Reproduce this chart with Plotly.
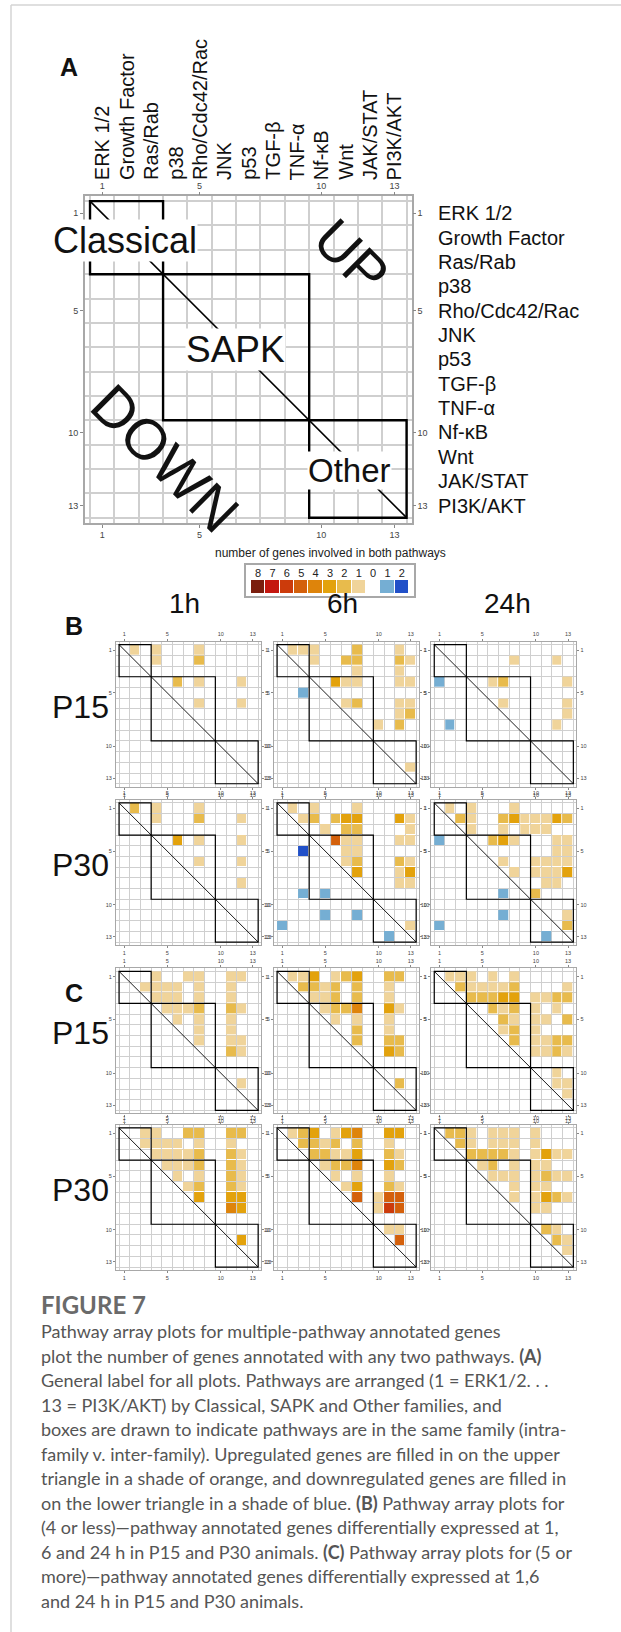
import plotly.graph_objects as go

W, H = 621, 1632

# ---------------- data ----------------
PATHWAYS = ["ERK 1/2", "Growth Factor", "Ras/Rab", "p38", "Rho/Cdc42/Rac", "JNK", "p53",
            "TGF-β", "TNF-α", "Nf-κB", "Wnt", "JAK/STAT", "PI3K/AKT"]
FAMILIES = [("Classical", 3), ("SAPK", 6), ("Other", 4)]
AXIS_TICKS = [1, 5, 10, 13]
TIMES = ["1h", "6h", "24h"]
AGES = ["P15", "P30"]
LEGEND_LEVELS = [8, 7, 6, 5, 4, 3, 2, 1, 0, -1, -2]
LEGEND_LABELS = ["8", "7", "6", "5", "4", "3", "2", "1", "0", "1", "2"]
LEVEL_COLORS = {8: "#7b1e0e", 7: "#c4170f", 6: "#cc3b0b", 5: "#d4600b", 4: "#de840b",
                3: "#e3a20c", 2: "#e8bb4c", 1: "#f0d49a", 0: "#ffffff",
                -1: "#75aed3", -2: "#2150c8"}

# (row, column, genes): positive = upregulated (upper triangle), negative = downregulated
B_P15_1H = [(1, 2, 1), (1, 4, 1), (2, 4, 1), (1, 8, 1), (2, 8, 2), (4, 6, 2), (4, 8, 1),
            (4, 12, 1), (6, 8, 1), (6, 12, 1)]
B_P15_6H = [(1, 2, 1), (1, 3, 1), (1, 4, 1), (1, 8, 2), (1, 12, 1),
            (2, 4, 1), (2, 7, 2), (2, 8, 2), (2, 12, 2), (2, 13, 1),
            (3, 8, 1), (3, 12, 1),
            (4, 6, 3), (4, 7, 1), (4, 8, 1), (4, 12, 1), (4, 13, 1),
            (5, 3, -1),
            (6, 7, 1), (6, 8, 2), (6, 12, 1), (6, 13, 1),
            (7, 12, 1), (7, 13, 2),
            (8, 10, 1), (8, 12, 2),
            (12, 13, 1)]
B_P15_24H = [(2, 8, 1), (2, 12, 1), (4, 1, -1), (4, 6, 1), (4, 7, 2), (4, 13, 1),
             (6, 7, 1), (6, 13, 1), (7, 13, 1), (8, 2, -1), (8, 12, 1)]
B_P30_1H = [(1, 2, 2), (1, 4, 1), (1, 8, 1), (2, 4, 1), (2, 8, 2), (2, 12, 1),
            (4, 6, 3), (4, 8, 1), (4, 12, 1), (6, 8, 1), (6, 12, 1), (8, 12, 1)]
B_P30_6H = [(1, 2, 1), (1, 4, 1), (1, 8, 1),
            (2, 3, 1), (2, 4, 2), (2, 6, 2), (2, 7, 3), (2, 8, 3), (2, 12, 3), (2, 13, 1),
            (3, 5, 1), (3, 7, 2), (3, 8, 2), (3, 13, 1),
            (4, 6, 5), (4, 7, 1), (4, 8, 1), (4, 12, 1), (4, 13, 1),
            (5, 3, -2), (5, 7, 1), (5, 8, 1),
            (6, 7, 1), (6, 8, 2), (6, 12, 2), (6, 13, 1),
            (7, 8, 3), (7, 12, 1), (7, 13, 3),
            (8, 12, 1), (8, 13, 1),
            (9, 3, -1), (9, 5, -1),
            (11, 5, -1), (11, 8, -1),
            (12, 1, -1), (12, 13, 1),
            (13, 11, -1)]
B_P30_24H = [(1, 2, 1), (1, 4, 1), (1, 8, 1),
             (2, 3, 2), (2, 4, 1), (2, 7, 2), (2, 8, 3), (2, 9, 1), (2, 10, 1), (2, 11, 1),
             (2, 12, 3), (2, 13, 2),
             (3, 4, 1), (3, 7, 1), (3, 9, 1), (3, 10, 1), (3, 11, 1),
             (4, 1, -1), (4, 6, 2), (4, 7, 3), (4, 8, 1), (4, 12, 1), (4, 13, 1),
             (5, 12, 1), (5, 13, 1),
             (6, 7, 1), (6, 10, 1), (6, 11, 1), (6, 12, 1), (6, 13, 1),
             (7, 8, 1), (7, 10, 1), (7, 11, 1), (7, 12, 1), (7, 13, 3),
             (8, 11, 1), (8, 12, 1),
             (9, 7, -1), (9, 10, 2),
             (11, 7, -1), (11, 13, 1),
             (12, 1, -1), (12, 13, 2),
             (13, 11, -1)]
C_P15_1H = [(1, 4, 1), (1, 7, 1), (1, 8, 1), (1, 11, 1), (1, 12, 1),
            (2, 3, 1), (2, 4, 1), (2, 5, 1), (2, 6, 1), (2, 8, 1), (2, 11, 1),
            (3, 4, 1), (3, 5, 1), (3, 6, 1), (3, 8, 1), (3, 11, 1),
            (4, 5, 1), (4, 6, 1), (4, 7, 1), (4, 8, 2), (4, 11, 2), (4, 12, 1),
            (5, 6, 1), (5, 8, 1), (5, 11, 1),
            (6, 8, 1), (6, 11, 1),
            (7, 8, 1), (7, 11, 1), (7, 12, 1),
            (8, 11, 2), (8, 12, 1),
            (11, 12, 1)]
C_P15_6H = [(1, 2, 1), (1, 3, 1), (1, 4, 3), (1, 6, 1), (1, 7, 2), (1, 8, 3), (1, 11, 2), (1, 12, 2),
            (2, 3, 2), (2, 4, 2), (2, 5, 1), (2, 6, 2), (2, 8, 2), (2, 11, 1),
            (3, 4, 1), (3, 5, 1), (3, 6, 2), (3, 8, 2), (3, 11, 1),
            (4, 5, 1), (4, 6, 2), (4, 7, 2), (4, 8, 4), (4, 11, 3), (4, 12, 1),
            (5, 6, 1), (5, 8, 1), (5, 11, 1),
            (6, 8, 2), (6, 11, 1),
            (7, 8, 2), (7, 11, 2), (7, 12, 2),
            (8, 11, 3), (8, 12, 2),
            (11, 12, 2)]
C_P15_24H = [(1, 2, 1), (1, 3, 1), (1, 4, 1), (1, 6, 1), (1, 8, 1),
             (2, 3, 2), (2, 4, 1), (2, 5, 1), (2, 6, 1), (2, 7, 1), (2, 8, 2), (2, 13, 1),
             (3, 4, 2), (3, 5, 2), (3, 6, 2), (3, 7, 3), (3, 8, 3), (3, 10, 1), (3, 11, 1),
             (3, 12, 2), (3, 13, 2),
             (4, 6, 2), (4, 7, 1), (4, 8, 2), (4, 10, 1), (4, 12, 1),
             (5, 7, 2), (5, 8, 1), (5, 10, 1), (5, 11, 1), (5, 13, 2),
             (6, 7, 1), (6, 8, 2), (6, 10, 1),
             (7, 8, 2), (7, 10, 1), (7, 11, 1), (7, 12, 2), (7, 13, 2),
             (8, 10, 1), (8, 11, 1), (8, 12, 2), (8, 13, 1),
             (10, 12, 1), (11, 12, 1), (11, 13, 1), (12, 13, 1)]
C_P30_1H = [(1, 3, 1), (1, 4, 1), (1, 7, 2), (1, 8, 2), (1, 11, 2), (1, 12, 2),
            (2, 3, 1), (2, 4, 1), (2, 5, 1), (2, 6, 1), (2, 8, 1), (2, 11, 1),
            (3, 4, 1), (3, 5, 1), (3, 6, 1), (3, 7, 1), (3, 8, 2), (3, 11, 2), (3, 12, 1),
            (4, 5, 1), (4, 6, 1), (4, 7, 1), (4, 8, 2), (4, 11, 2), (4, 12, 1),
            (5, 6, 1), (5, 8, 1), (5, 11, 2), (5, 12, 1),
            (6, 7, 1), (6, 8, 2), (6, 11, 2), (6, 12, 1),
            (7, 8, 3), (7, 11, 3), (7, 12, 3),
            (8, 11, 4), (8, 12, 3),
            (11, 12, 3)]
C_P30_6H = [(1, 2, 1), (1, 3, 2), (1, 4, 3), (1, 6, 1), (1, 7, 3), (1, 8, 4), (1, 11, 3), (1, 12, 3),
            (2, 3, 2), (2, 4, 2), (2, 5, 1), (2, 6, 2), (2, 8, 2), (2, 11, 1),
            (3, 4, 2), (3, 5, 2), (3, 6, 1), (3, 7, 1), (3, 8, 3), (3, 11, 2), (3, 12, 1),
            (4, 5, 1), (4, 6, 2), (4, 7, 2), (4, 8, 4), (4, 11, 3), (4, 12, 2),
            (5, 6, 1), (5, 8, 1), (5, 11, 1),
            (6, 7, 1), (6, 8, 3), (6, 11, 2), (6, 12, 1),
            (7, 8, 5), (7, 10, 1), (7, 11, 5), (7, 12, 5),
            (8, 10, 1), (8, 11, 6), (8, 12, 5),
            (10, 11, 1), (10, 12, 1),
            (11, 12, 5)]
C_P30_24H = [(1, 2, 2), (1, 3, 2), (1, 4, 1), (1, 6, 1), (1, 7, 1), (1, 8, 1), (1, 10, 1),
             (2, 3, 2), (2, 4, 1), (2, 6, 1), (2, 7, 1), (2, 8, 1), (2, 10, 1),
             (3, 4, 2), (3, 5, 2), (3, 6, 2), (3, 7, 2), (3, 8, 1), (3, 10, 1), (3, 11, 3),
             (3, 12, 1), (3, 13, 1),
             (4, 5, 1), (4, 6, 2), (4, 8, 1), (4, 10, 1), (4, 11, 1),
             (5, 6, 1), (5, 7, 1), (5, 8, 1), (5, 10, 1), (5, 11, 2), (5, 12, 1), (5, 13, 1),
             (6, 8, 1), (6, 10, 1), (6, 11, 1),
             (7, 8, 1), (7, 10, 1), (7, 11, 3), (7, 12, 2), (7, 13, 1),
             (8, 10, 1), (8, 11, 1),
             (10, 11, 2), (10, 12, 1),
             (11, 12, 2), (11, 13, 1),
             (12, 13, 1)]

PANEL_DATA = {
    ("B", "P15"): [B_P15_1H, B_P15_6H, B_P15_24H],
    ("B", "P30"): [B_P30_1H, B_P30_6H, B_P30_24H],
    ("C", "P15"): [C_P15_1H, C_P15_6H, C_P15_24H],
    ("C", "P30"): [C_P30_1H, C_P30_6H, C_P30_24H],
}

CAPTION_TITLE = "FIGURE 7"
CAPTION_LINES = [
    "Pathway array plots for multiple-pathway annotated genes",
    "plot the number of genes annotated with any two pathways. <b>(A)</b>",
    "General label for all plots. Pathways are arranged (1 = ERK1/2. . .",
    "13 = PI3K/AKT) by Classical, SAPK and Other families, and",
    "boxes are drawn to indicate pathways are in the same family (intra-",
    "family v. inter-family). Upregulated genes are filled in on the upper",
    "triangle in a shade of orange, and downregulated genes are filled in",
    "on the lower triangle in a shade of blue. <b>(B)</b> Pathway array plots for",
    "(4 or less)—pathway annotated genes differentially expressed at 1,",
    "6 and 24 h in P15 and P30 animals. <b>(C)</b> Pathway array plots for (5 or",
    "more)—pathway annotated genes differentially expressed at 1,6",
    "and 24 h in P15 and P30 animals.",
]

# ---------------- helpers ----------------
N = len(PATHWAYS)
FONT = "Liberation Sans, Arial, sans-serif"


def px(xp):
    return xp / W


def py(yp):
    return 1 - yp / H


def to_matrix(entries):
    z = [[None] * N for _ in range(N)]
    for r, c, v in entries:
        z[r - 1][c - 1] = v
    return z


def colorscale():
    lv = sorted(LEVEL_COLORS)
    lo, hi = lv[0], lv[-1]
    span = hi - lo
    cs = []
    for i, v in enumerate(lv):
        a = max(0.0, (i - 0.5) / span)
        b = min(1.0, (i + 0.5) / span)
        cs.append([a, LEVEL_COLORS[v]])
        cs.append([b, LEVEL_COLORS[v]])
    return cs, lo, hi


CS, ZMIN, ZMAX = colorscale()


def aref(letter, n):
    return letter if n == 1 else f"{letter}{n}"


def akey(letter, n):
    return f"{letter}axis" if n == 1 else f"{letter}axis{n}"


fig = go.Figure()
layout = {}
shapes = []
annotations = []


def add_panel(a, b, cx1, cy1, s, pad, entries, big):
    x0 = cx1 - s / 2 - pad
    x1 = cx1 + (N - 0.5) * s + pad
    y0 = cy1 - s / 2 - pad
    y1 = cy1 + (N - 0.5) * s + pad
    rng = [0.5 - pad / s, N + 0.5 + pad / s]
    tf = dict(size=9 if big else 5.5, color="#444", family=FONT)
    tl = 3 if big else 2
    gw = 1.5 if big else 1
    grid = dict(tickmode="array", tickvals=[k + 0.5 for k in range(N + 1)], showgrid=True,
                gridcolor="#cfcfcf", gridwidth=gw, ticklen=0)
    common = dict(tickmode="array", tickvals=AXIS_TICKS, ticks="outside", ticklen=tl,
                  tickwidth=1, tickcolor="#888", tickfont=tf, showgrid=False,
                  zeroline=False, fixedrange=True)
    layout[akey("x", a)] = dict(domain=[px(x0), px(x1)], range=rng, anchor=aref("y", a),
                                showline=True, linecolor="#a8a8a8", linewidth=2 if big else 1.4,
                                mirror=True, minor=grid, **common)
    layout[akey("y", a)] = dict(domain=[py(y1), py(y0)], range=rng[::-1], anchor=aref("x", a),
                                showline=True, linecolor="#a8a8a8", linewidth=2 if big else 1.4,
                                mirror=True, minor=grid, **common)
    layout[akey("x", b)] = dict(overlaying=aref("x", a), side="top", anchor=aref("y", b),
                                range=rng, showline=False, **common)
    layout[akey("y", b)] = dict(overlaying=aref("y", a), side="right", anchor=aref("x", b),
                                range=rng[::-1], showline=False, **common)
    fig.add_trace(go.Heatmap(
        x=list(range(1, N + 1)), y=list(range(1, N + 1)), z=to_matrix(entries),
        colorscale=CS, zmin=ZMIN, zmax=ZMAX, showscale=False,
        xgap=0 if big else 1, ygap=0 if big else 1, hoverinfo="skip",
        xaxis=aref("x", a), yaxis=aref("y", a)))
    fig.add_trace(go.Scatter(x=[], y=[], xaxis=aref("x", b), yaxis=aref("y", b),
                             showlegend=False, hoverinfo="skip"))
    edge = 0.5
    for _, size in FAMILIES:
        shapes.append(dict(type="rect", xref=aref("x", a), yref=aref("y", a),
                           x0=edge, x1=edge + size, y0=edge, y1=edge + size,
                           line=dict(color="black", width=2.4 if big else 1.2)))
        edge += size
    shapes.append(dict(type="line", xref=aref("x", a), yref=aref("y", a),
                       x0=0.5, y0=0.5, x1=N + 0.5, y1=N + 0.5,
                       line=dict(color="black", width=1.6 if big else 0.9)))


# ---------------- panel A ----------------
A_S = 24.35
A_CX1, A_CY1 = 102.2, 213.3
add_panel(1, 2, A_CX1, A_CY1, A_S, 5, [], True)

for i, name in enumerate(PATHWAYS, start=1):
    annotations.append(dict(text=name, xref="x", yref="paper", x=i, y=py(182),
                            xanchor="center", yanchor="bottom", textangle=-90, showarrow=False,
                            font=dict(size=20, color="#111", family=FONT)))
    annotations.append(dict(text=name, xref="paper", yref="y", x=px(436), y=i,
                            xanchor="left", yanchor="middle", showarrow=False,
                            font=dict(size=20, color="#111", family=FONT)))

for text, cx, cy, fs in [("Classical", 125, 240, 36), ("SAPK", 235, 349, 37),
                         ("Other", 349, 470.5, 33)]:
    annotations.append(dict(text=text, xref="paper", yref="paper", x=px(cx), y=py(cy),
                            xanchor="center", yanchor="middle", showarrow=False,
                            bgcolor="white", borderpad=0,
                            font=dict(size=fs, color="#111", family=FONT)))
for text, cx, cy, fs in [("UP", 352, 256, 56), ("DOWN", 165, 458, 57)]:
    annotations.append(dict(text=text, xref="paper", yref="paper", x=px(cx), y=py(cy),
                            xanchor="center", yanchor="middle", textangle=45, showarrow=False,
                            font=dict(size=fs, color="#111", family=FONT)))

annotations.append(dict(text="<b>A</b>", xref="paper", yref="paper", x=px(69), y=py(67),
                        xanchor="center", yanchor="middle", showarrow=False,
                        font=dict(size=25, color="#111", family=FONT)))

# ---------------- legend ----------------
annotations.append(dict(text="number of genes involved in both pathways", xref="paper", yref="paper",
                        x=px(330), y=py(553), xanchor="center", yanchor="middle", showarrow=False,
                        font=dict(size=12, color="#222", family=FONT)))
LG = 27
lx0, lx1 = 251, 409
fig.add_trace(go.Heatmap(x=list(range(len(LEGEND_LEVELS))), y=[0], z=[LEGEND_LEVELS],
                         colorscale=CS, zmin=ZMIN, zmax=ZMAX, showscale=False, xgap=1,
                         hoverinfo="skip", xaxis=aref("x", LG), yaxis=aref("y", LG)))
layout[akey("x", LG)] = dict(domain=[px(lx0), px(lx1)], range=[-0.5, len(LEGEND_LEVELS) - 0.5],
                             anchor=aref("y", LG), side="top", tickmode="array",
                             tickvals=list(range(len(LEGEND_LEVELS))), ticktext=LEGEND_LABELS,
                             ticks="", showgrid=False, zeroline=False, showline=False,
                             tickfont=dict(size=11, color="#222", family=FONT), fixedrange=True)
layout[akey("y", LG)] = dict(domain=[py(593), py(580)], range=[-0.5, 0.5], anchor=aref("x", LG),
                             visible=False, fixedrange=True)
shapes.append(dict(type="rect", xref="paper", yref="paper", x0=px(lx0 - 6), x1=px(lx1 + 6),
                   y0=py(564), y1=py(597), line=dict(color="#a8a8a8", width=2)))

# ---------------- panels B and C ----------------
S = 10.7
COL_X1 = [124.4, 282.4, 439.6]
TIME_DX = [-4, -4, 4]
ROW_Y1 = {("B", "P15"): 650.0, ("B", "P30"): 808.3, ("C", "P15"): 976.7, ("C", "P30"): 1133.3}
axis_id = 3
first = True
for key, sets in PANEL_DATA.items():
    for j, entries in enumerate(sets):
        add_panel(axis_id, axis_id + 1, COL_X1[j], ROW_Y1[key], S, 3, entries, False)
        if first:
            annotations.append(dict(text=TIMES[j], xref=aref("x", axis_id), yref="paper",
                                    x=7 + TIME_DX[j] / S, y=py(603), xanchor="center",
                                    yanchor="middle", showarrow=False,
                                    font=dict(size=28, color="#111", family=FONT)))
        if j == 0:
            annotations.append(dict(text=key[1], xref="paper", yref=aref("y", axis_id),
                                    x=px(80), y=6.3, xanchor="center", yanchor="middle",
                                    showarrow=False, font=dict(size=32, color="#111", family=FONT)))
        axis_id += 2
    first = False

annotations.append(dict(text="<b>B</b>", xref="paper", yref="paper", x=px(74), y=py(626),
                        xanchor="center", yanchor="middle", showarrow=False,
                        font=dict(size=25, color="#111", family=FONT)))
annotations.append(dict(text="<b>C</b>", xref="paper", yref="paper", x=px(74), y=py(993),
                        xanchor="center", yanchor="middle", showarrow=False,
                        font=dict(size=25, color="#111", family=FONT)))

# ---------------- caption ----------------
CAP_FONT = "Lato, Open Sans, sans-serif"
annotations.append(dict(text=f"<b>{CAPTION_TITLE}</b>", xref="paper", yref="paper", x=px(39),
                        y=py(1304), xanchor="left", yanchor="middle", showarrow=False,
                        font=dict(size=24, color="#6a6a6a", family=CAP_FONT)))
for k, line in enumerate(CAPTION_LINES):
    annotations.append(dict(text=line, xref="paper", yref="paper", x=px(39),
                            y=py(1331 + 24.5 * k), xanchor="left", yanchor="middle",
                            showarrow=False, font=dict(size=18, color="#555", family=CAP_FONT)))

# page frame
shapes.append(dict(type="line", xref="paper", yref="paper", x0=px(11), x1=1, y0=py(5), y1=py(5),
                   line=dict(color="#d4d4d4", width=1.5)))
shapes.append(dict(type="line", xref="paper", yref="paper", x0=px(11), x1=px(11), y0=py(5), y1=0,
                   line=dict(color="#d4d4d4", width=1.5)))

fig.update_layout(width=W, height=H, margin=dict(l=0, r=0, t=0, b=0),
                  paper_bgcolor="white", plot_bgcolor="white", showlegend=False,
                  shapes=shapes, annotations=annotations, **layout)
fig.write_html("out.html")
